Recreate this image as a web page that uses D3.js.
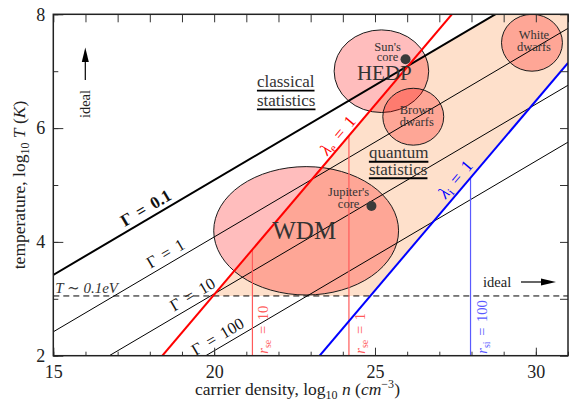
<!DOCTYPE html>
<html>
<head>
<meta charset="utf-8">
<script src="https://cdn.jsdelivr.net/npm/d3@7"></script>
<style>
  html, body { margin: 0; padding: 0; background: #fff; }
  svg { display: block; font-family: "Liberation Serif", "DejaVu Serif", serif; }
</style>
</head>
<body>
<svg id="chart" width="570" height="407"></svg>
<script>
// Axis ranges and ticks (log10 n in cm^-3, log10 T in K)
const xDomain = [15, 31];
const yDomain = [2, 8];
const xMajor = [15, 20, 25, 30];
const yMajor = [2, 4, 6, 8];
const xMinor = d3.range(15, 32);
const yMinor = d3.range(2, 9);

// Coupling lines Γ: log T at n = 1e15 and at n = 1e31
const gammaNames = ["Γ = 0.1", "Γ = 1", "Γ = 10", "Γ = 100"];
const gammaStart = [3.42, 2.42, 1.42, 0.42];
const gammaEnd = [8.753, 7.753, 6.753, 5.753];
const gammaLabelX = [17.3, 18.1, 18.83, 19.5];

// Degeneracy lines λ = 1 (electrons, ions), as two end points each
const lambdaEX = [18.39, 27.39], lambdaEY = [2, 8];
const lambdaIX = [23.28, 31], lambdaIY = [2, 7.147];

// T ~ 0.1 eV
const tDash = 3.05;

// Wigner–Seitz radius markers
const rSub = ["se", "se", "si"];
const rVal = ["10", "1", "100"];
const rX = [21.19, 24.19, 27.97];

// Regions of interest (ellipses)
const regionNames = ["WDM", "HEDP", "Brown dwarfs", "White dwarfs"];
const regionCx = [22.86, 25.20, 26.19, 29.88];
const regionCy = [4.195, 7.00, 6.20, 7.50];
const regionRx = [2.873, 1.47, 0.947, 0.947];
const regionRy = [1.128, 0.726, 0.50, 0.50];

// Reference objects
const objNames = ["Sun's core", "Jupiter's core"];
const objX = [25.95, 24.89];
const objY = [7.21, 4.63];

const W = 570, H = 407;
const L = 53.3, R = 568, T = 14.3, B = 355.7;
const x = d3.scaleLinear(xDomain, [L, R]);
const y = d3.scaleLinear(yDomain, [B, T]);

const svg = d3.select("#chart");
svg.append("defs").append("clipPath").attr("id", "plotclip")
  .append("rect").attr("x", L).attr("y", T).attr("width", R - L).attr("height", B - T);

const interp = (xs, ys, xv) => ys[0] + (xv - xs[0]) * (ys[1] - ys[0]) / (xs[1] - xs[0]);
const gammaY = (i, xv) => interp(xDomain, [gammaStart[i], gammaEnd[i]], xv);
const lamE = xv => interp(lambdaEX, lambdaEY, xv);
const lamI = xv => interp(lambdaIX, lambdaIY, xv);

const plot = svg.append("g").attr("clip-path", "url(#plotclip)");

// Quantum, weakly-ideal band: below Γ=0.1 and λe=1, above λi=1 and T ~ 0.1 eV
const samples = d3.range(xDomain[0], xDomain[1] + 0.0025, 0.0025).map(xv => {
  const top = Math.min(yDomain[1], gammaY(0, xv), lamE(xv));
  const bot = Math.max(yDomain[0], tDash, lamI(xv));
  return { xv, top, bot };
});
plot.append("path")
  .datum(samples)
  .attr("fill", "#fee0cb")
  .attr("d", d3.area()
    .defined(d => d.top > d.bot)
    .x(d => x(d.xv)).y0(d => y(d.bot)).y1(d => y(d.top)));

// Ellipses
regionNames.forEach((n, i) => {
  plot.append("ellipse")
    .attr("cx", x(regionCx[i])).attr("cy", y(regionCy[i]))
    .attr("rx", x(regionCx[i] + regionRx[i]) - x(regionCx[i]))
    .attr("ry", y(regionCy[i]) - y(regionCy[i] + regionRy[i]))
    .attr("fill", "rgba(255,0,0,0.26)")
    .attr("stroke", "#1a1a1a").attr("stroke-width", 1);
});

// Γ lines
gammaNames.forEach((n, i) => {
  plot.append("line")
    .attr("x1", x(xDomain[0])).attr("y1", y(gammaStart[i]))
    .attr("x2", x(xDomain[1])).attr("y2", y(gammaEnd[i]))
    .attr("stroke", "#000").attr("stroke-width", i === 0 ? 2 : 1);
});

// T ~ 0.1 eV dashed line
plot.append("line")
  .attr("x1", x(xDomain[0])).attr("x2", x(xDomain[1]))
  .attr("y1", y(tDash)).attr("y2", y(tDash))
  .attr("stroke", "#000").attr("stroke-width", 1)
  .attr("stroke-dasharray", "6,4");

// r_s verticals, rising from the bottom to the λ = 1 lines
rX.forEach((xv, i) => {
  const ion = rSub[i] === "si";
  const top = ion ? lamI(xv) : lamE(xv);
  plot.append("line")
    .attr("x1", x(xv)).attr("x2", x(xv))
    .attr("y1", y(yDomain[0])).attr("y2", y(top))
    .attr("stroke", ion ? "#5a5aff" : "#ff5a5a").attr("stroke-width", 1.2);
});

// λ = 1 lines
plot.append("line")
  .attr("x1", x(lambdaEX[0])).attr("y1", y(lambdaEY[0]))
  .attr("x2", x(lambdaEX[1])).attr("y2", y(lambdaEY[1]))
  .attr("stroke", "#ff0000").attr("stroke-width", 2);
plot.append("line")
  .attr("x1", x(lambdaIX[0])).attr("y1", y(lambdaIY[0]))
  .attr("x2", x(lambdaIX[1])).attr("y2", y(lambdaIY[1]))
  .attr("stroke", "#0000ff").attr("stroke-width", 2);

// Reference objects
objNames.forEach((n, i) => {
  plot.append("circle").attr("cx", x(objX[i])).attr("cy", y(objY[i])).attr("r", 5)
    .attr("fill", "#3a3a3a");
});

// ---------- Text ----------
const txt = svg.append("g");
const angleOf = (xs, ys) => Math.atan2(y(ys[1]) - y(ys[0]), x(xs[1]) - x(xs[0])) * 180 / Math.PI;

// Γ labels along their lines
gammaNames.forEach((n, i) => {
  const xv = gammaLabelX[i];
  const a = angleOf(xDomain, [gammaStart[i], gammaEnd[i]]);
  txt.append("text")
    .attr("transform", `translate(${x(xv)},${y(gammaY(i, xv))}) rotate(${a})`)
    .attr("y", -5)
    .attr("font-size", i === 0 ? 17 : 16.5).attr("word-spacing", 3)
    .attr("font-weight", i === 0 ? "bold" : "normal")
    .attr("fill", "#111")
    .text(n);
});

// λ labels
function lambdaLabel(xs, ys, xv, off, color, sub) {
  const a = angleOf(xs, ys);
  const t = txt.append("text")
    .attr("transform", `translate(${x(xv)},${y(interp(xs, ys, xv))}) rotate(${a})`)
    .attr("y", -off).attr("text-anchor", "middle")
    .attr("font-size", 17).attr("fill", color);
  t.append("tspan").attr("font-style", "italic").text("λ");
  t.append("tspan").attr("font-size", 12).attr("dy", 3).text(sub);
  t.append("tspan").attr("dy", -3).attr("word-spacing", 3).text(" = 1");
}
lambdaLabel(lambdaEX, lambdaEY, 24.05, 3, "#ff0000", "e");
lambdaLabel(lambdaIX, lambdaIY, 27.75, 5, "#0000ff", "i");

// r_s labels
rX.forEach((xv, i) => {
  const ion = rSub[i] === "si";
  const t = txt.append("text")
    .attr("transform", `translate(${x(xv) + 16},${y(yDomain[0]) - 2}) rotate(-90)`)
    .attr("font-size", 14.5).attr("fill", ion ? "#5a5aff" : "#ff5a5a");
  t.append("tspan").attr("font-style", "italic").text("r");
  t.append("tspan").attr("font-size", 10).attr("dy", 3).text(rSub[i]);
  t.append("tspan").attr("dy", -3).attr("word-spacing", 2).text(" = " + rVal[i]);
});

// Region names (multi-line names share one text element)
const regionText = [
  { lines: ["WDM"], x: 22.8, y: 4.05, gap: 0, size: 25 },
  { lines: ["HEDP"], x: 25.29, y: 6.84, gap: 0, size: 21 },
  { lines: ["Brown", "dwarfs"], x: 26.3, y: 6.255, gap: 12, size: 12.5 },
  { lines: ["White", "dwarfs"], x: 29.94, y: 7.57, gap: 12.5, size: 12.5 },
  { lines: ["Sun's", "core"], x: 25.39, y: 7.36, gap: 10.5, size: 12.5 },
  { lines: ["Jupiter's", "core"], x: 24.18, y: 4.80, gap: 11.5, size: 12.5 }
];
regionText.forEach(r => {
  const t = txt.append("text").attr("y", y(r.y))
    .attr("text-anchor", "middle").attr("font-size", r.size).attr("fill", "#333");
  r.lines.forEach((s, j) => {
    t.append("tspan").attr("x", x(r.x)).attr("dy", j === 0 ? 0 : r.gap).text(s);
  });
});

// Underlined statistics notes
function underlined(lines, xv, ys) {
  lines.forEach((s, j) => {
    const t = txt.append("text").attr("x", x(xv)).attr("y", y(ys[j]))
      .attr("font-size", 17).attr("fill", "#333").text(s);
    const w = t.node().getComputedTextLength();
    txt.append("line")
      .attr("x1", x(xv)).attr("x2", x(xv) + w)
      .attr("y1", y(ys[j]) + 3.5).attr("y2", y(ys[j]) + 3.5)
      .attr("stroke", "#000").attr("stroke-width", 1.8);
  });
}
underlined(["classical", "statistics"], 21.33, [6.72, 6.39]);
underlined(["quantum", "statistics"], 24.81, [5.47, 5.18]);

// T ~ 0.1 eV
txt.append("text").attr("x", L + 2).attr("y", y(tDash) - 3)
  .attr("font-size", 15).attr("font-style", "italic").attr("fill", "#333")
  .text("T ∼ 0.1eV");

// "ideal" arrows
txt.append("text").attr("x", 483).attr("y", 287).attr("font-size", 14.5).attr("fill", "#222").text("ideal");
txt.append("line").attr("x1", 521).attr("x2", 546).attr("y1", 282).attr("y2", 282).attr("stroke", "#000").attr("stroke-width", 1.2);
txt.append("path").attr("d", "M541,278.5 L556,282 L541,285.5 Z").attr("fill", "#000");

txt.append("text").attr("transform", "translate(90,104) rotate(-90)")
  .attr("text-anchor", "middle").attr("font-size", 14.5).attr("fill", "#222").text("ideal");
txt.append("line").attr("x1", 85.3).attr("x2", 85.3).attr("y1", 80).attr("y2", 58).attr("stroke", "#000").attr("stroke-width", 1.2);
txt.append("path").attr("d", "M81.8,62 L85.3,47.5 L88.8,62 Z").attr("fill", "#000");

// ---------- Axes ----------
function styleAxis(g) {
  g.select(".domain").remove();
  g.selectAll("line").attr("stroke", "#333");
  g.selectAll("text").attr("font-family", "Liberation Serif, serif").attr("font-size", 18).attr("fill", "#222");
}
svg.append("g").attr("transform", `translate(0,${B})`)
  .call(d3.axisBottom(x).tickValues(xMinor).tickSize(-4).tickFormat("")).call(styleAxis);
svg.append("g").attr("transform", `translate(0,${B})`)
  .call(d3.axisBottom(x).tickValues(xMajor).tickSize(-8).tickPadding(10).tickFormat(d3.format("d"))).call(styleAxis);
svg.append("g").attr("transform", `translate(0,${T})`)
  .call(d3.axisTop(x).tickValues(xMinor).tickSize(-8).tickFormat("")).call(styleAxis);
svg.append("g").attr("transform", `translate(${L},0)`)
  .call(d3.axisLeft(y).tickValues(yMinor).tickSize(-5).tickFormat("")).call(styleAxis);
svg.append("g").attr("transform", `translate(${L},0)`)
  .call(d3.axisLeft(y).tickValues(yMajor).tickSize(-10).tickPadding(8).tickFormat(d3.format("d"))).call(styleAxis);
svg.append("g").attr("transform", `translate(${R},0)`)
  .call(d3.axisRight(y).tickValues(yMinor).tickSize(-8).tickFormat("")).call(styleAxis);

// Frame
svg.append("rect").attr("x", L).attr("y", T).attr("width", R - L).attr("height", B - T)
  .attr("fill", "none").attr("stroke", "#222").attr("stroke-width", 1.5);

// Axis titles
const xt = svg.append("text").attr("x", 297.5).attr("y", 395).attr("text-anchor", "middle")
  .attr("font-size", 17.5).attr("fill", "#222");
xt.append("tspan").text("carrier density, log");
xt.append("tspan").attr("font-size", 12).attr("dy", 4).text("10");
xt.append("tspan").attr("dy", -4).attr("font-style", "italic").text(" n");
xt.append("tspan").text(" (");
xt.append("tspan").attr("font-style", "italic").text("cm");
xt.append("tspan").attr("font-size", 12).attr("dy", -7).text("−3");
xt.append("tspan").attr("dy", 7).text(")");

const yt = svg.append("text").attr("transform", "translate(25,185) rotate(-90)")
  .attr("text-anchor", "middle").attr("font-size", 17.5).attr("fill", "#222");
yt.append("tspan").text("temperature, log");
yt.append("tspan").attr("font-size", 12).attr("dy", 4).text("10");
yt.append("tspan").attr("dy", -4).attr("font-style", "italic").text(" T");
yt.append("tspan").text(" (");
yt.append("tspan").attr("font-style", "italic").text("K");
yt.append("tspan").text(")");
</script>
</body>
</html>
